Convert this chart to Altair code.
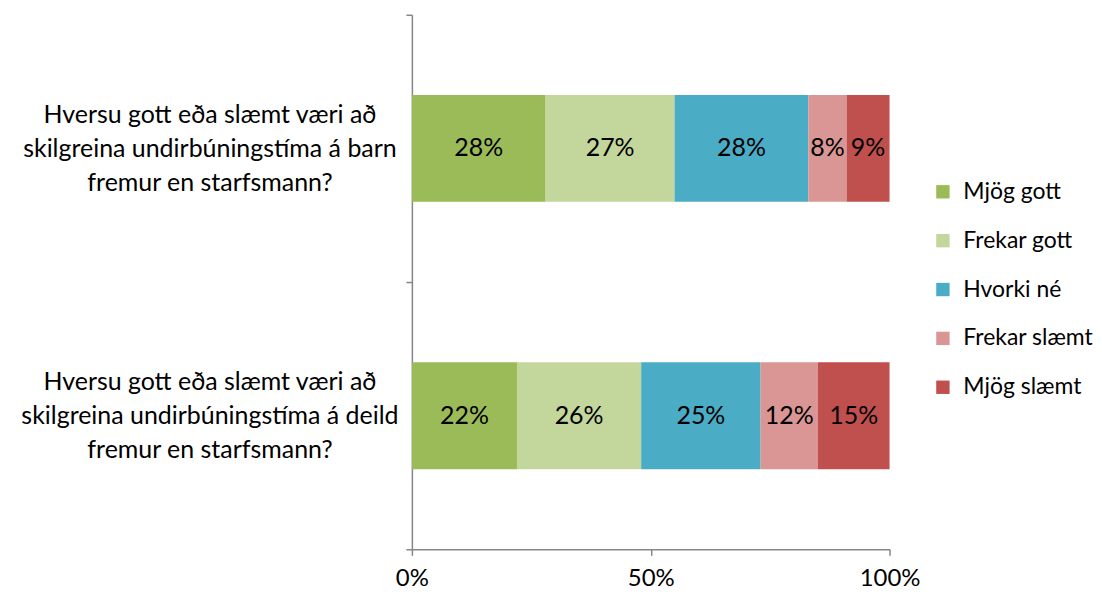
import altair as alt
import pandas as pd

questions = [
    "Hversu gott eða slæmt væri að\nskilgreina undirbúningstíma á barn\nfremur en starfsmann?",
    "Hversu gott eða slæmt væri að\nskilgreina undirbúningstíma á deild\nfremur en starfsmann?",
]
categories = ["Mjög gott", "Frekar gott", "Hvorki né", "Frekar slæmt", "Mjög slæmt"]
colors = ["#9BBB59", "#C3D69B", "#4BACC6", "#D99694", "#C0504D"]
values_q1 = [28, 27, 28, 8, 9]
values_q2 = [22, 26, 25, 12, 15]

rows = []
for q, vals in zip(questions, [values_q1, values_q2]):
    for i, (c, v) in enumerate(zip(categories, vals)):
        rows.append({"q": q, "cat": c, "order": i, "val": v / 100.0})
df = pd.DataFrame(rows)

FONT = "Lato"
AXIS_GREY = "#868686"

base = alt.Chart(df).transform_stack(
    stack="val", groupby=["q"], as_=["x0", "x1"], sort=[alt.SortField("order")]
).transform_calculate(
    mid="(datum.x0 + datum.x1) / 2"
)

y_axis = alt.Axis(
    labelExpr="split(datum.label, '\\n')",
    labelAlign="center",
    labelPadding=197,
    labelOffset=-34,
    labelFontSize=25,
    labelFont=FONT,
    labelColor="#000000",
    labelLineHeight=34,
    tickBand="extent",
    tickSize=6,
    tickColor=AXIS_GREY,
    domainColor=AXIS_GREY,
    domainWidth=1.5,
    tickWidth=1.5,
    labelLimit=500,
    minExtent=392,
    maxExtent=392,
)
y_scale = alt.Scale(paddingInner=0, paddingOuter=0)

x_axis = alt.Axis(
    values=[0, 0.5, 1],
    format=".0%",
    grid=False,
    labelFlush=False,
    labelFontSize=24,
    labelFont=FONT,
    labelColor="#000000",
    labelPadding=11,
    tickSize=6,
    tickColor=AXIS_GREY,
    domainColor=AXIS_GREY,
    domainWidth=1.5,
    tickWidth=1.5,
)
x_scale = alt.Scale(domain=[0, 1], nice=False)

bars = base.mark_bar(height={"band": 0.4}).encode(
    x=alt.X("x0:Q", title=None, scale=x_scale, axis=x_axis),
    x2="x1:Q",
    y=alt.Y("q:N", sort=questions, title=None, scale=y_scale, axis=y_axis),
    color=alt.Color(
        "cat:N",
        sort=categories,
        scale=alt.Scale(domain=categories, range=colors),
        legend=alt.Legend(
            title=None,
            symbolType="square",
            symbolSize=180,
            symbolStrokeWidth=0,
            labelFontSize=23,
            labelFont=FONT,
            labelColor="#000000",
            labelOffset=9,
            rowPadding=25,
            orient="none",
            legendX=521,
            legendY=166,
        ),
    ),
)

text = base.mark_text(fontSize=25, font=FONT, color="#000000").encode(
    x=alt.X("mid:Q", title=None),
    y=alt.Y("q:N", sort=questions, title=None),
    text=alt.Text("val:Q", format=".0%"),
)

chart = alt.layer(bars, text).properties(
    width=479, height=536, padding={"left": 12, "top": -6, "right": 0, "bottom": 0}
).configure(background="white").configure_view(stroke=None)

chart.save("out.html", embed_options={"renderer": "svg", "actions": False})
